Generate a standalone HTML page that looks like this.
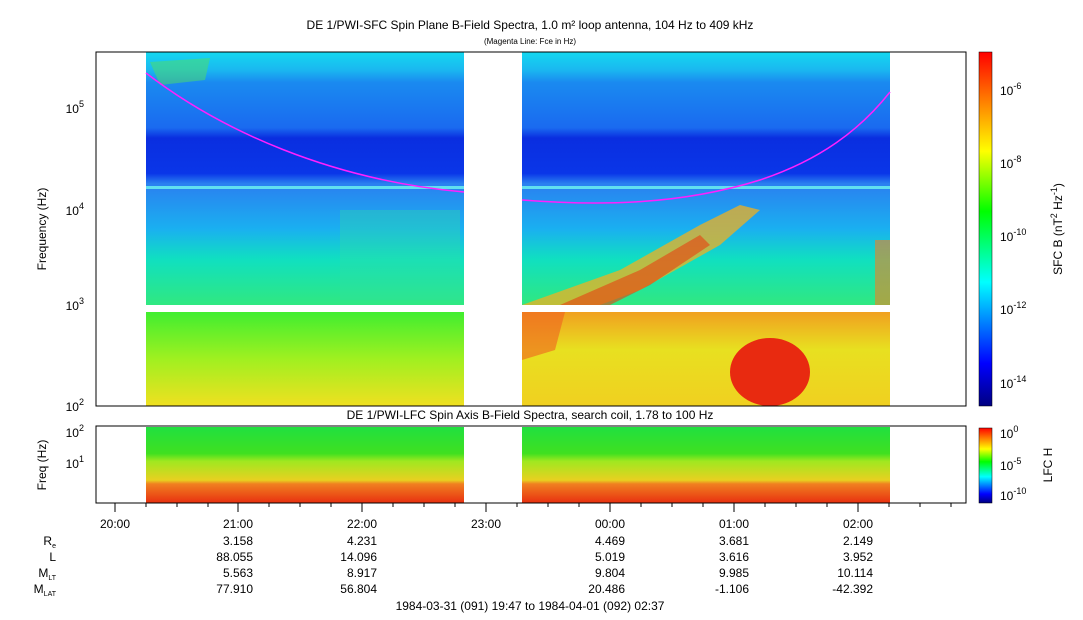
<!DOCTYPE html>
<html><head><meta charset="utf-8"><style>
body{margin:0;background:#fff;}
svg{display:block;font-family:"Liberation Sans",sans-serif;}
</style></head><body>
<svg width="1083" height="620" viewBox="0 0 1083 620" xmlns="http://www.w3.org/2000/svg">
<defs>
<linearGradient id="topL" x1="0" y1="0" x2="0" y2="1">
<stop offset="0" stop-color="#14d8f0"/><stop offset="0.07" stop-color="#1ab8f0"/>
<stop offset="0.12" stop-color="#1a8af0"/><stop offset="0.3" stop-color="#1a6af0"/>
<stop offset="0.34" stop-color="#0a2ee0"/><stop offset="0.48" stop-color="#0a36e8"/>
<stop offset="0.52" stop-color="#2a80f0"/><stop offset="0.7" stop-color="#1ab0f0"/>
<stop offset="0.82" stop-color="#10e0c0"/><stop offset="1" stop-color="#30e880"/>
</linearGradient>
<linearGradient id="low" x1="0" y1="0" x2="0" y2="1">
<stop offset="0" stop-color="#40ee30"/><stop offset="0.5" stop-color="#a0f020"/><stop offset="1" stop-color="#f0e020"/>
</linearGradient>
<linearGradient id="lowR" x1="0" y1="0" x2="0" y2="1">
<stop offset="0" stop-color="#f0a020"/><stop offset="0.4" stop-color="#e8e020"/><stop offset="1" stop-color="#f0d020"/>
</linearGradient>
<linearGradient id="lfc" x1="0" y1="0" x2="0" y2="1">
<stop offset="0" stop-color="#20e040"/><stop offset="0.35" stop-color="#40e020"/>
<stop offset="0.45" stop-color="#a0e820"/><stop offset="0.7" stop-color="#e8d020"/>
<stop offset="0.75" stop-color="#f08020"/><stop offset="1" stop-color="#e83010"/>
</linearGradient>
<linearGradient id="cb" x1="0" y1="1" x2="0" y2="0">
<stop offset="0" stop-color="#000080"/><stop offset="0.12" stop-color="#0000ff"/>
<stop offset="0.35" stop-color="#00ffff"/><stop offset="0.55" stop-color="#00ff00"/>
<stop offset="0.72" stop-color="#ffff00"/><stop offset="0.86" stop-color="#ff8000"/><stop offset="1" stop-color="#ff0000"/>
</linearGradient>
</defs>
<text x="530" y="29" font-size="12" text-anchor="middle">DE 1/PWI-SFC  Spin Plane B-Field Spectra, 1.0 m² loop antenna, 104 Hz to 409 kHz</text>
<text x="530" y="44" font-size="8" text-anchor="middle">(Magenta Line: Fce in Hz)</text>
<rect x="146" y="52" width="318" height="253" fill="url(#topL)"/>
<rect x="522" y="52" width="368" height="253" fill="url(#topL)"/>
<rect x="146" y="312" width="318" height="94" fill="url(#low)"/>
<rect x="522" y="312" width="368" height="94" fill="url(#lowR)"/>
<polygon points="150,62 210,58 205,80 160,85" fill="#50e060" opacity="0.5"/>
<polygon points="522,305 620,270 700,225 740,205 760,210 720,245 640,290 600,305" fill="#f0b020" opacity="0.75"/>
<polygon points="560,305 640,270 700,235 710,245 650,285 610,305" fill="#e84010" opacity="0.6"/>
<polygon points="340,210 460,210 460,300 340,300" fill="#30e0a0" opacity="0.35"/>
<polygon points="522,312 565,312 555,350 522,360" fill="#f06020" opacity="0.6"/>
<ellipse cx="770" cy="372" rx="40" ry="34" fill="#e82a10"/>
<rect x="875" y="240" width="15" height="65" fill="#f08020" opacity="0.6"/>
<rect x="146" y="186" width="318" height="3" fill="#60e0f0"/>
<rect x="522" y="186" width="368" height="3" fill="#60e0f0"/>
<path d="M146,73 C220,130 330,180 464,192" stroke="#ff20ff" stroke-width="1.5" fill="none"/>
<path d="M522,200 C600,206 680,205 760,180 C820,160 860,130 890,92" stroke="#ff20ff" stroke-width="1.5" fill="none"/>
<rect x="96" y="52" width="870" height="354" fill="none" stroke="#000"/>
<g font-size="12" text-anchor="end">
<text x="84" y="113">10<tspan font-size="9" dy="-6">5</tspan></text>
<text x="84" y="215">10<tspan font-size="9" dy="-6">4</tspan></text>
<text x="84" y="310">10<tspan font-size="9" dy="-6">3</tspan></text>
<text x="84" y="411">10<tspan font-size="9" dy="-6">2</tspan></text>
</g>
<text transform="translate(46,229) rotate(-90)" font-size="12" text-anchor="middle">Frequency (Hz)</text>
<rect x="979" y="52" width="13" height="354" fill="url(#cb)" stroke="#000" stroke-width="0.5"/>
<g font-size="12">
<text x="1000" y="95">10<tspan font-size="9" dy="-6">-6</tspan></text>
<text x="1000" y="168">10<tspan font-size="9" dy="-6">-8</tspan></text>
<text x="1000" y="241">10<tspan font-size="9" dy="-6">-10</tspan></text>
<text x="1000" y="314">10<tspan font-size="9" dy="-6">-12</tspan></text>
<text x="1000" y="388">10<tspan font-size="9" dy="-6">-14</tspan></text>
</g>
<text transform="translate(1062,229) rotate(-90)" font-size="12" text-anchor="middle">SFC B (nT<tspan font-size="9" dy="-5">2</tspan><tspan dy="5"> Hz</tspan><tspan font-size="9" dy="-5">-1</tspan><tspan dy="5">)</tspan></text>
<text x="530" y="419" font-size="12" text-anchor="middle">DE 1/PWI-LFC  Spin Axis B-Field Spectra, search coil, 1.78 to 100 Hz</text>
<rect x="146" y="427" width="318" height="76" fill="url(#lfc)"/>
<rect x="522" y="427" width="368" height="76" fill="url(#lfc)"/>
<rect x="96" y="426" width="870" height="77" fill="none" stroke="#000"/>
<g font-size="12" text-anchor="end">
<text x="84" y="437">10<tspan font-size="9" dy="-6">2</tspan></text>
<text x="84" y="468">10<tspan font-size="9" dy="-6">1</tspan></text>
</g>
<text transform="translate(46,465) rotate(-90)" font-size="12" text-anchor="middle">Freq (Hz)</text>
<rect x="979" y="428" width="13" height="75" fill="url(#cb)" stroke="#000" stroke-width="0.5"/>
<g font-size="12">
<text x="1000" y="438">10<tspan font-size="9" dy="-6">0</tspan></text>
<text x="1000" y="470">10<tspan font-size="9" dy="-6">-5</tspan></text>
<text x="1000" y="500">10<tspan font-size="9" dy="-6">-10</tspan></text>
</g>
<text transform="translate(1052,465) rotate(-90)" font-size="12" text-anchor="middle">LFC H</text>
<g stroke="#000">
<line x1="115" y1="503" x2="115" y2="512"/><line x1="238" y1="503" x2="238" y2="512"/>
<line x1="362" y1="503" x2="362" y2="512"/><line x1="486" y1="503" x2="486" y2="512"/>
<line x1="610" y1="503" x2="610" y2="512"/><line x1="734" y1="503" x2="734" y2="512"/>
<line x1="858" y1="503" x2="858" y2="512"/>
<line x1="146" y1="503" x2="146" y2="507"/><line x1="177" y1="503" x2="177" y2="507"/><line x1="208" y1="503" x2="208" y2="507"/>
<line x1="269" y1="503" x2="269" y2="507"/><line x1="300" y1="503" x2="300" y2="507"/><line x1="331" y1="503" x2="331" y2="507"/>
<line x1="393" y1="503" x2="393" y2="507"/><line x1="424" y1="503" x2="424" y2="507"/><line x1="455" y1="503" x2="455" y2="507"/>
<line x1="517" y1="503" x2="517" y2="507"/><line x1="548" y1="503" x2="548" y2="507"/><line x1="579" y1="503" x2="579" y2="507"/>
<line x1="641" y1="503" x2="641" y2="507"/><line x1="672" y1="503" x2="672" y2="507"/><line x1="703" y1="503" x2="703" y2="507"/>
<line x1="765" y1="503" x2="765" y2="507"/><line x1="796" y1="503" x2="796" y2="507"/><line x1="827" y1="503" x2="827" y2="507"/>
<line x1="889" y1="503" x2="889" y2="507"/><line x1="920" y1="503" x2="920" y2="507"/><line x1="951" y1="503" x2="951" y2="507"/>
</g>
<g font-size="12" text-anchor="middle">
<text x="115" y="528">20:00</text><text x="238" y="528">21:00</text><text x="362" y="528">22:00</text>
<text x="486" y="528">23:00</text><text x="610" y="528">00:00</text><text x="734" y="528">01:00</text><text x="858" y="528">02:00</text>
</g>
<g font-size="12" text-anchor="end">
<text x="56" y="545">R<tspan font-size="7" dy="3">e</tspan></text>
<text x="56" y="561">L</text>
<text x="56" y="577">M<tspan font-size="7" dy="3">LT</tspan></text>
<text x="56" y="593">M<tspan font-size="7" dy="3">LAT</tspan></text>
<text x="253" y="545">3.158</text><text x="377" y="545">4.231</text><text x="625" y="545">4.469</text><text x="749" y="545">3.681</text><text x="873" y="545">2.149</text>
<text x="253" y="561">88.055</text><text x="377" y="561">14.096</text><text x="625" y="561">5.019</text><text x="749" y="561">3.616</text><text x="873" y="561">3.952</text>
<text x="253" y="577">5.563</text><text x="377" y="577">8.917</text><text x="625" y="577">9.804</text><text x="749" y="577">9.985</text><text x="873" y="577">10.114</text>
<text x="253" y="593">77.910</text><text x="377" y="593">56.804</text><text x="625" y="593">20.486</text><text x="749" y="593">-1.106</text><text x="873" y="593">-42.392</text>
</g>
<text x="530" y="610" font-size="12" text-anchor="middle">1984-03-31 (091) 19:47 to 1984-04-01 (092) 02:37</text>
</svg>
</body></html>
